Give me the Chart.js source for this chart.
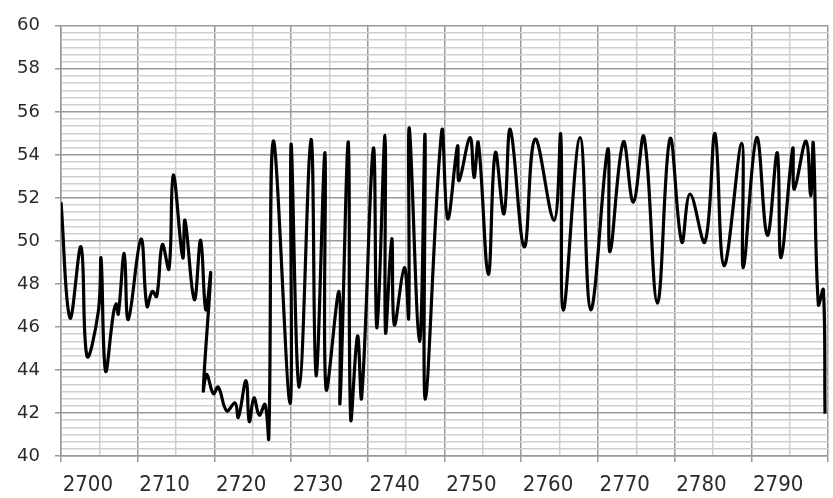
<!DOCTYPE html>
<html>
<head>
<meta charset="utf-8">
<script src="https://cdn.jsdelivr.net/npm/chart.js@4.4.0/dist/chart.umd.min.js"></script>
<style>
  body { margin: 0; background: #fff; }
  #wrap { width: 833px; height: 498px; }
</style>
</head>
<body>
<div id="wrap"><canvas id="seriesChart"></canvas></div>
<script>
// series (x in axis units, y in axis units)
const xValues = [
  2696.5, 2697.67, 2699.11, 2699.89, 2701.36, 2701.72, 2702.30, 2703.32, 2703.71, 2703.97,
  2704.75, 2705.27, 2706.93, 2707.71, 2708.40, 2708.98, 2709.71, 2710.58, 2711.14, 2712.37,
  2712.67, 2713.88, 2714.71, 2715.37, 2716.02, 2715.05, 2715.50, 2716.36, 2717.01, 2718.10,
  2719.19, 2719.62, 2720.62, 2721.05, 2721.66, 2722.35, 2723.10, 2723.59, 2724.18, 2726.36,
  2726.49, 2727.57, 2729.10, 2729.75, 2730.92, 2731.05, 2732.75, 2732.88, 2733.96, 2734.27,
  2735.16, 2735.70, 2737.22, 2737.70, 2738.74, 2738.81, 2739.62, 2739.96, 2741.26, 2741.83,
  2741.91, 2743.24, 2743.96, 2744.00, 2746.14, 2746.92, 2748.20, 2748.39, 2749.83, 2750.35,
  2750.91, 2752.21, 2753.12, 2754.26, 2755.08, 2756.90, 2758.30, 2760.78, 2761.65, 2761.99,
  2764.17, 2765.56, 2767.78, 2768.08, 2769.81, 2771.12, 2772.51, 2774.25, 2775.90, 2777.43,
  2778.51, 2780.46, 2781.77, 2782.94, 2785.25, 2785.46, 2787.20, 2788.59, 2789.89, 2790.37,
  2791.90, 2792.11, 2793.63, 2794.25, 2794.58, 2795.24, 2795.89, 2796.11
];
const yValues = [
  51.8, 46.42, 49.72, 44.65, 46.7, 49.18, 43.96, 46.6, 47.08, 46.6,
  49.42, 46.35, 50.08, 46.96, 47.65, 47.42, 49.83, 48.7, 53.06, 49.22,
  50.95, 47.27, 50.03, 46.8, 48.5, 43.05, 43.8, 42.9, 43.2, 42.1,
  42.47, 41.8, 43.5, 41.6, 42.7, 41.9, 42.4, 40.85, 54.64, 42.43,
  54.5, 43.2, 54.72, 43.73, 54.1, 43.12, 47.65, 42.5, 54.6, 41.74,
  45.58, 42.73, 54.3, 45.96, 54.9, 45.75, 50.1, 46.1, 48.76, 46.43,
  55.25, 45.33, 54.94, 42.64, 55.1, 51.03, 54.41, 52.8, 54.8, 52.95,
  54.56, 48.45, 54.1, 51.26, 55.18, 49.72, 54.73, 50.95, 54.94, 46.78,
  54.8, 46.8, 54.26, 49.5, 54.6, 51.8, 54.84, 47.11, 54.75, 49.95,
  52.18, 49.95, 54.99, 48.85, 54.53, 48.76, 54.8, 50.26, 54.1, 49.22,
  54.29, 52.41, 54.64, 52.1, 54.53, 47.04, 47.73, 41.97
];

const xTickLabels = [2700, 2710, 2720, 2730, 2740, 2750, 2760, 2770, 2780, 2790];
const yTickLabels = [40, 42, 44, 46, 48, 50, 52, 54, 56, 58, 60];

const X_MIN = 2696.5;
const X_MAX = 2796.5;
const Y_MIN = 40;
const Y_MAX = 60;
const Y_MINOR = 6;   // minor lines per labelled step

const MAJOR = "#999999";
const MINOR = "#cfcfcf";
const TEXT = "#2b2b2b";

function xGridKind(v) {
  const k = (v - X_MIN) / 5;
  if (Math.abs(k - Math.round(k)) > 0.01) return "none";
  return Math.round(k) % 2 === 0 ? "major" : "minor";
}

const points = xValues.map((x, i) => ({ x, y: yValues[i] }));

new Chart(document.getElementById("seriesChart"), {
  type: "line",
  data: {
    datasets: [{
      data: points,
      borderColor: "#000000",
      borderWidth: 3.2,
      pointRadius: 0,
      tension: 0.4,
      fill: false
    }]
  },
  options: {
    responsive: true,
    maintainAspectRatio: false,
    animation: false,
    layout: { padding: { top: 22, right: 5, left: 0, bottom: 0 } },
    plugins: { legend: { display: false }, tooltip: { enabled: false } },
    scales: {
      x: {
        type: "linear",
        min: X_MIN,
        max: X_MAX,
        afterBuildTicks: (scale) => {
          const ticks = [];
          for (let b = X_MIN; b <= X_MAX + 0.001; b += 5) ticks.push({ value: b });
          xTickLabels.forEach(v => ticks.push({ value: v }));
          ticks.sort((a, b) => a.value - b.value);
          scale.ticks = ticks;
        },
        afterFit: (scale) => {
          scale.height = 42;
          scale.paddingLeft = 0;
          scale.paddingRight = 0;
        },
        grid: {
          color: (ctx) => {
            const kind = ctx.tick ? xGridKind(ctx.tick.value) : "none";
            return kind === "major" ? MAJOR : kind === "minor" ? MINOR : "rgba(0,0,0,0)";
          },
          tickColor: (ctx) => (ctx.tick && xGridKind(ctx.tick.value) === "major") ? MAJOR : "rgba(0,0,0,0)",
          lineWidth: 1.5,
          tickLength: 6
        },
        border: { color: MAJOR, width: 1.5 },
        ticks: {
          autoSkip: false,
          maxRotation: 0,
          padding: 10,
          color: TEXT,
          font: { family: "'DejaVu Sans Condensed', 'DejaVu Sans'", size: 22 },
          callback: (value) => xTickLabels.includes(value) ? String(value) : ""
        }
      },
      y: {
        type: "linear",
        min: Y_MIN,
        max: Y_MAX,
        afterBuildTicks: (scale) => {
          const steps = (yTickLabels.length - 1) * Y_MINOR;
          const ticks = [];
          for (let i = 0; i <= steps; i++) {
            ticks.push({ value: Y_MIN + (Y_MAX - Y_MIN) * i / steps });
          }
          scale.ticks = ticks;
        },
        afterFit: (scale) => { scale.width = 61; },
        grid: {
          color: (ctx) => (ctx.index % Y_MINOR === 0) ? MAJOR : MINOR,
          tickColor: (ctx) => (ctx.index % Y_MINOR === 0) ? MAJOR : "rgba(0,0,0,0)",
          lineWidth: 1.5,
          tickLength: 6
        },
        border: { color: MAJOR, width: 1.5 },
        ticks: {
          autoSkip: false,
          padding: 15,
          color: TEXT,
          font: { family: "DejaVu Sans", size: 18 },
          callback: (value, index) => index % Y_MINOR === 0 ? String(yTickLabels[index / Y_MINOR]) : ""
        }
      }
    }
  }
});
</script>
</body>
</html>
